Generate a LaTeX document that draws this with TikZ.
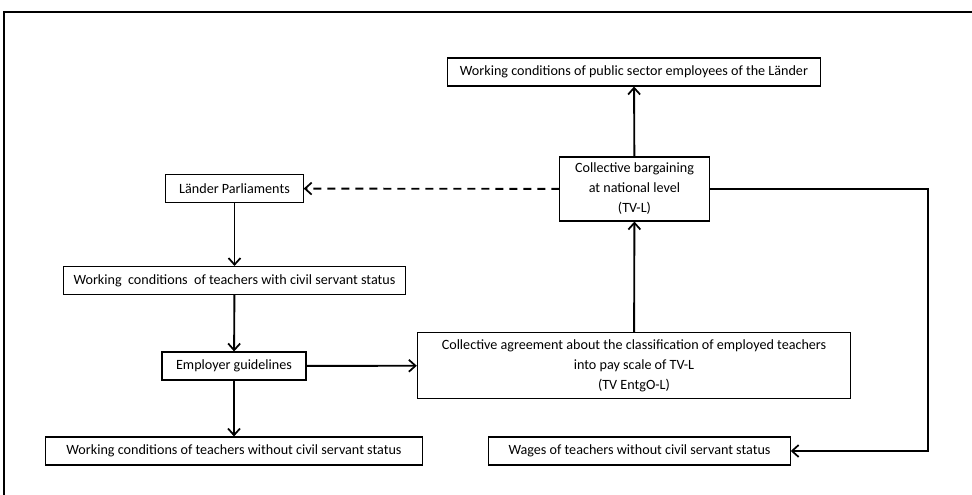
\documentclass[tikz,border=0pt]{standalone}
\usepackage{fontspec}
\setmainfont{Carlito}
\usetikzlibrary{arrows.meta}
\tikzset{
  box/.style={draw, line width=0.8pt, align=center, inner sep=2pt, minimum height=21pt},
  link/.style={line width=1.4pt, -{Straight Barb[length=5pt,width=9pt,line width=1.3pt]}}
}
\begin{document}
\begin{tikzpicture}[x=0.75pt, y=-0.75pt, font=\fontsize{10.6}{15}\selectfont]
      \useasboundingbox (0,0) rectangle (972,495);
      \draw[line width=1.2pt] (972,12) -| (4,495);
      \draw
        (234.5,188.5) node[box, minimum width=103pt] (laender){Länder Parliaments}
        (234.5,280.5) node[box, minimum width=257pt] (civil){Working \ conditions \ of teachers with civil servant status}
        (234,366) node[box, minimum width=108pt] (guide){Employer guidelines}
        (234,451) node[box, minimum width=283pt] (nocivil){Working conditions of teachers without civil servant status}
        (634,72) node[box, minimum width=280pt] (public){Working conditions of public sector employees of the Länder}
        (634.5,189) node[box, minimum width=112pt, minimum height=48pt] (tvl){Collective bargaining\\at national level\\(TV-L)}
        (634,365.5) node[box, minimum width=325pt, minimum height=49pt] (entgo){Collective agreement about the classification of employed teachers\\into pay scale of TV-L\\(TV EntgO-L)}
        (639.5,451) node[box, minimum width=226pt] (wages){Wages of teachers without civil servant status};
      \coordinate (turn) at (928,189);
      \begin{scope}[link]
        \draw (laender) to (civil);
        \draw (civil) to (guide);
        \draw (guide) to (nocivil);
        \draw (guide) to (entgo);
        \draw (entgo) to (tvl);
        \draw (tvl) to (public);
        \draw[dashed, dash pattern=on 6pt off 4.5pt] (tvl) to (laender);
        \draw (tvl.east) -- (turn) |- (wages);
      \end{scope}
    \end{tikzpicture}
\end{document}
